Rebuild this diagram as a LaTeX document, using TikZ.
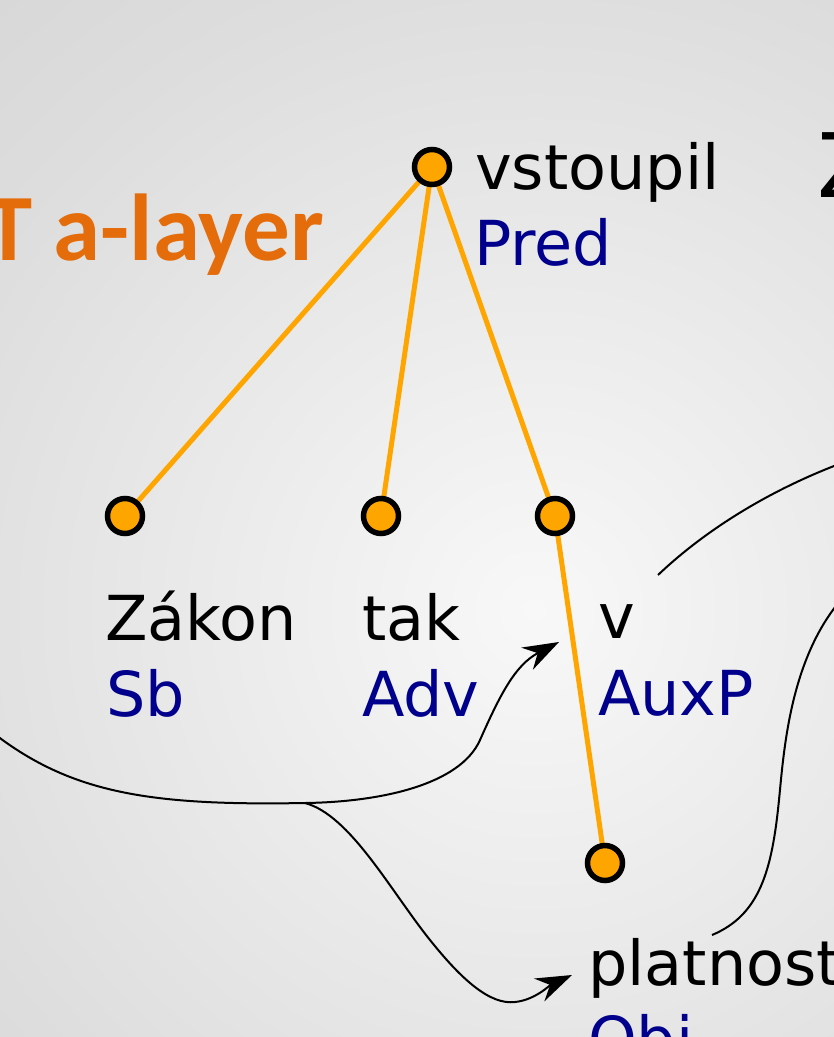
\documentclass[tikz,border=0pt]{standalone}
\usepackage{fontspec}
\setmainfont{DejaVu Sans}
\newfontfamily\titlefont{Carlito}
\usetikzlibrary{arrows.meta}

\definecolor{edgeorange}{RGB}{255,165,0}
\definecolor{funcblue}{RGB}{0,0,140}
\definecolor{titleorange}{RGB}{228,108,10}
\definecolor{bgA}{RGB}{248,248,248}
\definecolor{bgB}{RGB}{236,236,236}
\definecolor{bgC}{RGB}{221,221,221}
\definecolor{bgD}{RGB}{208,208,208}
\definecolor{bgE}{RGB}{196,196,196}

\pgfdeclareradialshading{bgshade}{\pgfpoint{0bp}{0bp}}{%
  color(0bp)=(bgA); color(8bp)=(bgB); color(18bp)=(bgC);
  color(30bp)=(bgD); color(50bp)=(bgE)}

\pgfdeclarelayer{backdrop}
\pgfdeclarelayer{edges}
\pgfsetlayers{backdrop,edges,main}

\tikzset{
  tnode/.style={circle, draw=black, fill=edgeorange, line width=5.5pt,
    minimum size=35pt, inner sep=0pt},
  tedge/.style={draw=edgeorange, line width=5pt},
  form/.style={anchor=base west, inner sep=0pt, text=black,
    font=\fontsize{62}{74}\selectfont},
  afun/.style={anchor=base west, inner sep=0pt, text=funcblue,
    font=\fontsize{62}{74}\selectfont},
  link/.style={draw=black, line width=2pt},
  linkarrow/.style={link, -{Stealth[length=36pt, width=25pt, inset=12pt]}},
}

\begin{document}
\begin{tikzpicture}[x=1pt, y=-1pt]
\useasboundingbox (0,0) rectangle (834,1037);
\begin{pgfonlayer}{backdrop}
  \begin{scope}
    \clip (0,0) rectangle (834,1037);
    \shade[shading=bgshade] (535,610) circle (900pt);
  \end{scope}
\end{pgfonlayer}

% layer title and the neighbouring heading
\node[anchor=base east, inner sep=0pt, text=titleorange,
  font=\titlefont\bfseries\fontsize{95}{105}\selectfont] (title) at (324,260) {T a-layer};
\node[anchor=base west, inner sep=0pt,
  font=\fontsize{89}{100}\selectfont] (head) at (817,197) {Z};

% tree nodes
\node[tnode] (root) at (432,167) {};
\node[tnode] (zakon) at (125,516) {};
\node[tnode] (tak) at (381,516) {};
\node[tnode] (v) at (555,516) {};
\node[tnode] (platnost) at (605,863) {};

% dependency edges, kept under the nodes
\begin{pgfonlayer}{edges}
  \path[tedge] (root.center) -- (zakon.center);
  \path[tedge] (root.center) -- (tak.center);
  \path[tedge] (root.center) -- (v.center);
  \path[tedge] (v.center) -- (platnost.center);
\end{pgfonlayer}

% word forms and analytical functions
\node[form] (f0) at (475,189) {vstoupil};
\node[afun] (a0) at (474,265) {Pred};
\node[form] (f1) at (105,640) {Zákon};
\node[afun] (a1) at (106,716) {Sb};
\node[form] (f2) at (362,640) {tak};
\node[afun] (a2) at (362,716) {Adv};
\node[form] (f3) at (598,638) {v};
\node[afun] (a3) at (598,715) {AuxP};
\node[form] (f4) at (588,985) {platnost};
\node[afun] (a4) at (588,1061) {Obj};

% alignment links
\coordinate (inL) at (-25,718);
\coordinate (split) at (305,803);
\coordinate (tipV) at (559,642);
\coordinate (tipP) at (572,975);
\coordinate (endV) at (658,575);
\coordinate (outV) at (870,452);
\coordinate (endP) at (712,935);
\coordinate (outP) at (850,590);

\draw[link] (inL) .. controls (60,792) and (140,806) .. (split);
\draw[linkarrow] (split) .. controls (380,802) and (460,785) .. (480,740)
  .. controls (500,695) and (515,665) .. (tipV);
\draw[linkarrow] (split) .. controls (350,815) and (390,890) .. (430,940)
  .. controls (462,980) and (490,1005) .. (515,1002)
  .. controls (535,1000) and (550,985) .. (tipP);
\draw[link] (endV) .. controls (700,535) and (760,495) .. (834,466)
  .. controls (846,461) and (858,456) .. (outV);
\draw[link] (endP) .. controls (760,915) and (772,870) .. (779,800)
  .. controls (784,750) and (790,650) .. (outP);
\end{tikzpicture}
\end{document}
